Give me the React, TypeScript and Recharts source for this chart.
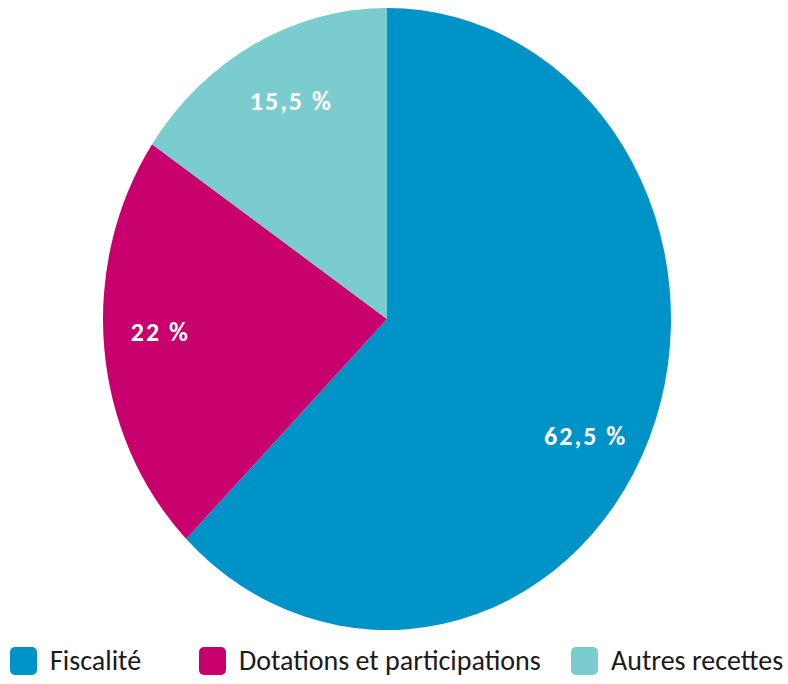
import { PieChart, Pie, Cell, Legend } from 'recharts';

// parts of revenue, in %
const categories = ['Fiscalité', 'Dotations et participations', 'Autres recettes'];
const shares = [62.5, 22, 15.5];
const colors = ['#0093C8', '#C8006E', '#7ACCCE'];

const data = categories.map((name, i) => ({ name, value: shares[i] }));

// the reference pie is a bit taller than wide
const RX = 284;
const RY = 311;
const RAD = Math.PI / 180;
const FONT = "Carlito, Calibri, 'Liberation Sans Narrow', 'DejaVu Sans Condensed', 'Open Sans', sans-serif";

// small hand nudges so labels sit where the original placed them
const labelNudge = [
  [-6, 24],
  [-6, -10],
  [8, -4],
];

const EllipseSector = (props: any) => {
  const { cx, cy, outerRadius, startAngle, endAngle, fill } = props;
  const ry = (outerRadius * RY) / RX;
  const x0 = cx + outerRadius * Math.cos(startAngle * RAD);
  const y0 = cy - ry * Math.sin(startAngle * RAD);
  const x1 = cx + outerRadius * Math.cos(endAngle * RAD);
  const y1 = cy - ry * Math.sin(endAngle * RAD);
  const large = Math.abs(endAngle - startAngle) > 180 ? 1 : 0;
  const d = `M${cx},${cy} L${x0},${y0} A${outerRadius},${ry} 0 ${large} 1 ${x1},${y1} Z`;
  return <path d={d} fill={fill} stroke="none" />;
};

const renderLabel = (props: any) => {
  const { cx, cy, midAngle, outerRadius, value, index } = props;
  const ry = (outerRadius * RY) / RX;
  const k = 0.78;
  const [nx, ny] = labelNudge[index] || [0, 0];
  const x = cx + k * outerRadius * Math.cos(midAngle * RAD) + nx;
  const y = cy - k * ry * Math.sin(midAngle * RAD) + ny;
  return (
    <text
      x={x}
      y={y}
      fill="#fff"
      textAnchor="middle"
      dominantBaseline="central"
      style={{ fontFamily: FONT, fontSize: 26, fontWeight: 700, letterSpacing: 2 }}
    >
      {String(value).replace('.', ',')} %
    </text>
  );
};

const legendX = [10, 199, 571];

const renderLegend = () => (
  <div style={{ position: 'relative', width: 788, height: 36, fontFamily: FONT }}>
    {categories.map((name, i) => (
      <div
        key={name}
        style={{ position: 'absolute', left: legendX[i], top: 0, display: 'flex', alignItems: 'center' }}
      >
        <span
          style={{
            display: 'inline-block',
            width: 27,
            height: 28,
            borderRadius: 5,
            background: colors[i],
            marginRight: 13,
          }}
        />
        <span style={{ fontSize: 28, color: '#1a1a1a', lineHeight: '34px' }}>{name}</span>
      </div>
    ))}
  </div>
);

export default function App() {
  return (
    <div style={{ position: 'absolute', left: 0, top: 0, width: 788, height: 684, background: '#fff' }}>
      <PieChart width={788} height={684} margin={{ top: 0, right: 0, bottom: 0, left: 0 }}>
        <Pie
          data={data}
          dataKey="value"
          nameKey="name"
          cx={387}
          cy={319}
          outerRadius={RX}
          startAngle={90}
          endAngle={-270}
          shape={EllipseSector}
          label={renderLabel}
          labelLine={false}
          isAnimationActive={false}
        >
          {data.map((d, i) => (
            <Cell key={d.name} fill={colors[i]} />
          ))}
        </Pie>
        <Legend
          content={renderLegend}
          verticalAlign="bottom"
          wrapperStyle={{ left: 0, bottom: 4, width: 788 }}
        />
      </PieChart>
    </div>
  );
}
